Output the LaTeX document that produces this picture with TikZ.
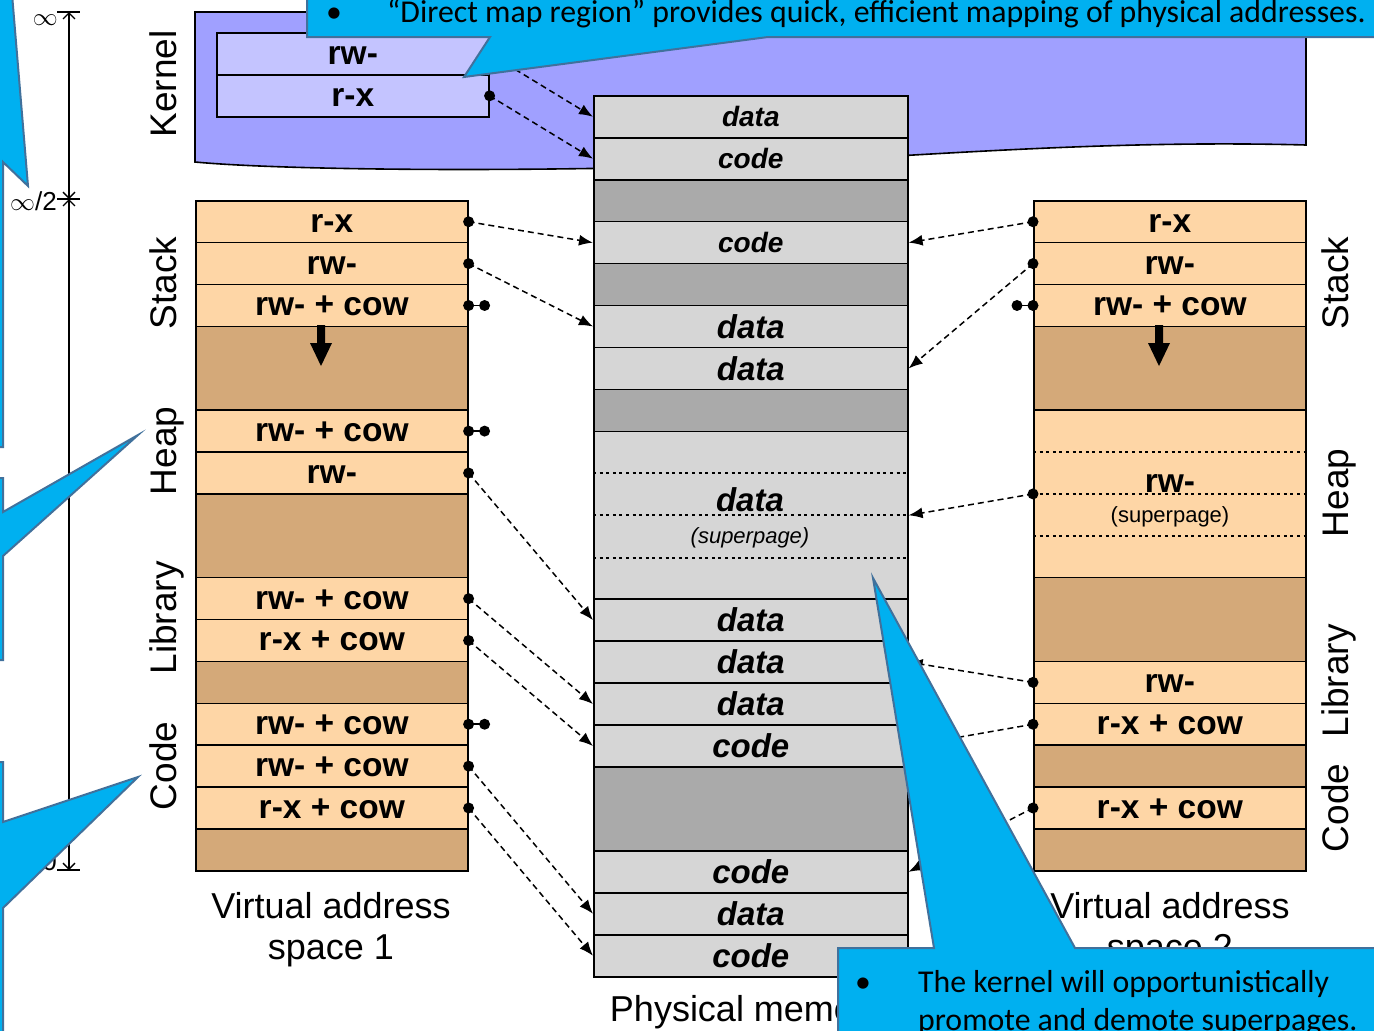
\documentclass[tikz,border=0pt]{standalone}
\usepackage{fontspec}
\setmainfont{Liberation Sans}
\newfontfamily\callfont{Carlito}
\usetikzlibrary{arrows.meta,calc}

\definecolor{peach}{RGB}{254,214,166}
\definecolor{tanfill}{RGB}{212,169,121}
\definecolor{pglight}{RGB}{214,214,214}
\definecolor{pgdark}{RGB}{170,170,170}
\definecolor{kfill}{RGB}{160,160,255}
\definecolor{krowfill}{RGB}{196,196,255}
\definecolor{calloutfill}{RGB}{0,176,240}
\definecolor{calloutline}{RGB}{65,113,156}

\newcommand\fsz[2]{\fontsize{#1}{#2}\selectfont}
\def\vh{41.875}
\def\ph{41.95}

\tikzset{
  cell/.style={draw, line width=1.6pt, inner sep=0pt, anchor=north west},
  vrow/.style={cell, fill=peach, minimum width=272pt, minimum height=\vh pt, text height=21pt, text depth=0pt, font=\bfseries\fsz{33.5}{36}},
  vgap/.style={cell, fill=tanfill, minimum width=272pt, minimum height=\vh pt},
  vgaptwo/.style={vgap, minimum height=2*\vh pt},
  prow/.style={cell, fill=pglight, minimum width=314pt, minimum height=\ph pt, font=\bfseries\itshape\fsz{33}{36}},
  prowsmall/.style={prow, font=\bfseries\itshape\fsz{28}{32}},
  pgap/.style={cell, fill=pgdark, minimum width=314pt, minimum height=\ph pt},
  krow/.style={cell, fill=krowfill, minimum width=272pt, minimum height=42pt, text height=21pt, text depth=0pt, font=\bfseries\fsz{33.5}{36}},
  region/.style={font=\fsz{37}{40}, rotate=90, anchor=base},
  caption/.style={font=\fsz{36}{40}, anchor=base},
  link/.style={line width=1.5pt, dash pattern=on 6pt off 4pt, -{Latex[length=14pt,width=11pt]}},
  cowlink/.style={line width=1.5pt},
  dot/.style={circle, fill, inner sep=0pt, minimum size=11pt},
  dotline/.style={line width=2pt, dash pattern=on 3pt off 3.6pt},
  dim/.style={line width=1.4pt, {Straight Barb[length=6pt,width=12pt]}-{Straight Barb[length=6pt,width=12pt]}},
  scalelabel/.style={font=\fsz{26}{30}, anchor=east, inner sep=0pt},
  callout/.style={fill=calloutfill, draw=calloutline, line width=2pt, line join=miter},
  callouttext/.style={font=\callfont\fsz{31.8}{38}, anchor=base west, inner sep=0pt},
}

\begin{document}
\begin{tikzpicture}[x=1pt,y=-1pt]
\useasboundingbox (0,0) rectangle (1374,1031);
\clip (0,0) rectangle (1374,1031);

% ---------- address scale ----------
\coordinate (dTop) at (69,12);
\coordinate (dMid) at (69,199);
\coordinate (dBot) at (69,870);
\draw[dim] (dTop) -- (dMid);
\draw[dim] (dMid) -- (dBot);
\foreach \c in {dTop,dMid,dBot} \draw[line width=1.4pt] ($(\c)+(-12,0)$) -- ($(\c)+(11,0)$);
\node[scalelabel] (infty) at (58,20) {$\infty$};
\node[scalelabel] (halfinfty) at (57,201) {$\infty$/2};
\node[scalelabel] (zero) at (57,862) {0};

% ---------- kernel region ----------
\filldraw[fill=kfill, line width=1.6pt]
  (195,12) -- (1306,12) -- (1306,145)
  .. controls (1080,139) and (880,160) .. (700,166)
  .. controls (500,172) and (280,170) .. (195,162) -- cycle;
\node[krow] (k0) at (216,32) {rw-};
\node[krow] (k1) at (216,74) {r-x};

% ---------- virtual address space 1 ----------
\node[vrow] (l0) at (195,200) {r-x};
\node[vrow] (l1) at (195,200+1*\vh) {rw-};
\node[vrow] (l2) at (195,200+2*\vh) {rw- + cow};
\node[vgaptwo] (l3) at (195,200+3*\vh) {};
\node[vrow] (l5) at (195,200+5*\vh) {rw- + cow};
\node[vrow] (l6) at (195,200+6*\vh) {rw-};
\node[vgaptwo] (l7) at (195,200+7*\vh) {};
\node[vrow] (l9) at (195,200+9*\vh) {rw- + cow};
\node[vrow] (l10) at (195,200+10*\vh) {r-x + cow};
\node[vgap] (l11) at (195,200+11*\vh) {};
\node[vrow] (l12) at (195,200+12*\vh) {rw- + cow};
\node[vrow] (l13) at (195,200+13*\vh) {rw- + cow};
\node[vrow] (l14) at (195,200+14*\vh) {r-x + cow};
\node[vgap] (l15) at (195,200+15*\vh) {};
\fill (317,325) -- (325,325) -- (325,343) -- (332,343) -- (321,366) -- (310,343) -- (317,343) -- cycle;

% ---------- virtual address space 2 ----------
\node[vrow] (r0) at (1033,200) {r-x};
\node[vrow] (r1) at (1033,200+1*\vh) {rw-};
\node[vrow] (r2) at (1033,200+2*\vh) {rw- + cow};
\node[vgaptwo] (r3) at (1033,200+3*\vh) {};
\node[cell, fill=peach, minimum width=272pt, minimum height=4*\vh pt] (r5) at (1033,200+5*\vh) {};
\foreach \f in {0.25,0.5,0.75}
  \draw[dotline] ($(r5.north west)!\f!(r5.south west)$) -- ($(r5.north east)!\f!(r5.south east)$);
\node[font=\bfseries\fsz{33.5}{36}, anchor=base] (r5a) at (1170,492) {rw-};
\node[font=\fsz{22}{26}, anchor=base] (r5b) at (1170,522) {(superpage)};
\node[vgaptwo] (r9) at (1033,200+9*\vh) {};
\node[vrow] (r11) at (1033,200+11*\vh) {rw-};
\node[vrow] (r12) at (1033,200+12*\vh) {r-x + cow};
\node[vgap] (r13) at (1033,200+13*\vh) {};
\node[vrow] (r14) at (1033,200+14*\vh) {r-x + cow};
\node[vgap] (r15) at (1033,200+15*\vh) {};
\fill (1155,325) -- (1163,325) -- (1163,343) -- (1170,343) -- (1159,366) -- (1148,343) -- (1155,343) -- cycle;

% ---------- physical memory ----------
\node[prowsmall] (p0) at (593,95) {data};
\node[prowsmall] (p1) at (593,95+1*\ph) {code};
\node[pgap] (p2) at (593,95+2*\ph) {};
\node[prowsmall] (p3) at (593,95+3*\ph) {code};
\node[pgap] (p4) at (593,95+4*\ph) {};
\node[prow] (p5) at (593,95+5*\ph) {data};
\node[prow] (p6) at (593,95+6*\ph) {data};
\node[pgap] (p7) at (593,95+7*\ph) {};
\node[cell, fill=pglight, minimum width=314pt, minimum height=4*\ph pt] (p8) at (593,95+8*\ph) {};
\foreach \f in {0.25,0.5,0.75}
  \draw[dotline] ($(p8.north west)!\f!(p8.south west)$) -- ($(p8.north east)!\f!(p8.south east)$);
\node[font=\bfseries\itshape\fsz{33}{36}, anchor=base] (p8a) at (750,511) {data};
\node[font=\itshape\fsz{22}{26}, anchor=base] (p8b) at (750,543) {(superpage)};
\node[prow] (p12) at (593,95+12*\ph) {data};
\node[prow] (p13) at (593,95+13*\ph) {data};
\node[prow] (p14) at (593,95+14*\ph) {data};
\node[prow] (p15) at (593,95+15*\ph) {code};
\node[pgap, minimum height=2*\ph pt] (p16) at (593,95+16*\ph) {};
\node[prow] (p18) at (593,95+18*\ph) {code};
\node[prow] (p19) at (593,95+19*\ph) {data};
\node[prow] (p20) at (593,95+20*\ph) {code};

% ---------- region labels ----------
\node[region] (lblKernel) at (176,84) {Kernel};
\node[region] (lblStackL) at (176,283) {Stack};
\node[region] (lblHeapL) at (176,451) {Heap};
\node[region] (lblLibL) at (176,618) {Library};
\node[region] (lblCodeL) at (176,766) {Code};
\node[region] (lblStackR) at (1348,283) {Stack};
\node[region] (lblHeapR) at (1348,493) {Heap};
\node[region] (lblLibR) at (1348,681) {Library};
\node[region] (lblCodeR) at (1348,808) {Code};

\node[caption] (cap1a) at (331,918) {Virtual address};
\node[caption] (cap1b) at (331,959) {space 1};
\node[caption] (cap2a) at (1170,918) {Virtual address};
\node[caption] (cap2b) at (1170,959) {space 2};
\node[caption] (capP) at (747,1021) {Physical memory};

% ---------- mappings ----------
\draw[link] (k0.east) -- (p0.west);
\draw[link] (k1.east) -- (p1.west);
\draw[link] (l0.east) -- (p3.west);
\draw[link] (l1.east) -- (p5.west);
\draw[link] (l6.east) -- (p12.west);
\draw[link] (l9.east) -- (p14.west);
\draw[link] (l10.east) -- (p15.west);
\draw[link] (l13.east) -- (p19.west);
\draw[link] (l14.east) -- (p20.west);
\draw[link] (r0.west) -- (p3.east);
\draw[link] (r1.west) -- (p6.east);
\draw[link] (r5.west) -- (p8.east);
\draw[link] (r11.west) -- (p13.east);
\draw[link] (r12.west) -- (p15.east);
\draw[link] (r14.west) -- (p18.east);
\foreach \n in {k0,k1,l0,l1,l6,l9,l10,l13,l14} \node[dot] at (\n.east) {};
\foreach \n in {r0,r1,r5,r11,r12,r14} \node[dot] at (\n.west) {};

% copy-on-write pages with no private frame yet
\coordinate (l2c) at ($(l2.east)+(16,0)$);
\coordinate (l5c) at ($(l5.east)+(16,0)$);
\coordinate (l12c) at ($(l12.east)+(16,0)$);
\coordinate (r2c) at ($(r2.west)+(-16,0)$);
\foreach \a/\b in {l2/east,l5/east,l12/east,r2/west} {
  \draw[cowlink] (\a.\b) -- (\a c);
  \node[dot] at (\a.\b) {};
  \node[dot] at (\a c) {};
}

% ---------- callouts ----------
\filldraw[callout] (-30,-30) -- (10,-30) -- (28,186) -- (3,162) -- (3,447) -- (-30,447) -- cycle;
\filldraw[callout] (-30,478) -- (3,478) -- (3,512) -- (138,435) -- (3,556) -- (3,660) -- (-30,660) -- cycle;
\filldraw[callout] (-30,762) -- (3,762) -- (3,822) -- (138,777) -- (3,908) -- (3,1060) -- (-30,1060) -- cycle;

\filldraw[callout] (307,-30) -- (1390,-30) -- (1390,37) -- (768,37) -- (464,77) -- (490,37) -- (307,37) -- cycle;
\node[callouttext] (bulA) at (326,22) {•};
\node[callouttext] (txtA) at (387,22) {“Direct map region” provides quick, efficient mapping of physical addresses.};

\filldraw[callout] (838,948) -- (934,948) -- (873,578) -- (1075,948) -- (1390,948) -- (1390,1060) -- (838,1060) -- cycle;
\node[callouttext] (bulB) at (855,992) {•};
\node[callouttext] (txtB1) at (918,992) {The kernel will opportunistically};
\node[callouttext] (txtB2) at (918,1030) {promote and demote superpages.};
\end{tikzpicture}
\end{document}
